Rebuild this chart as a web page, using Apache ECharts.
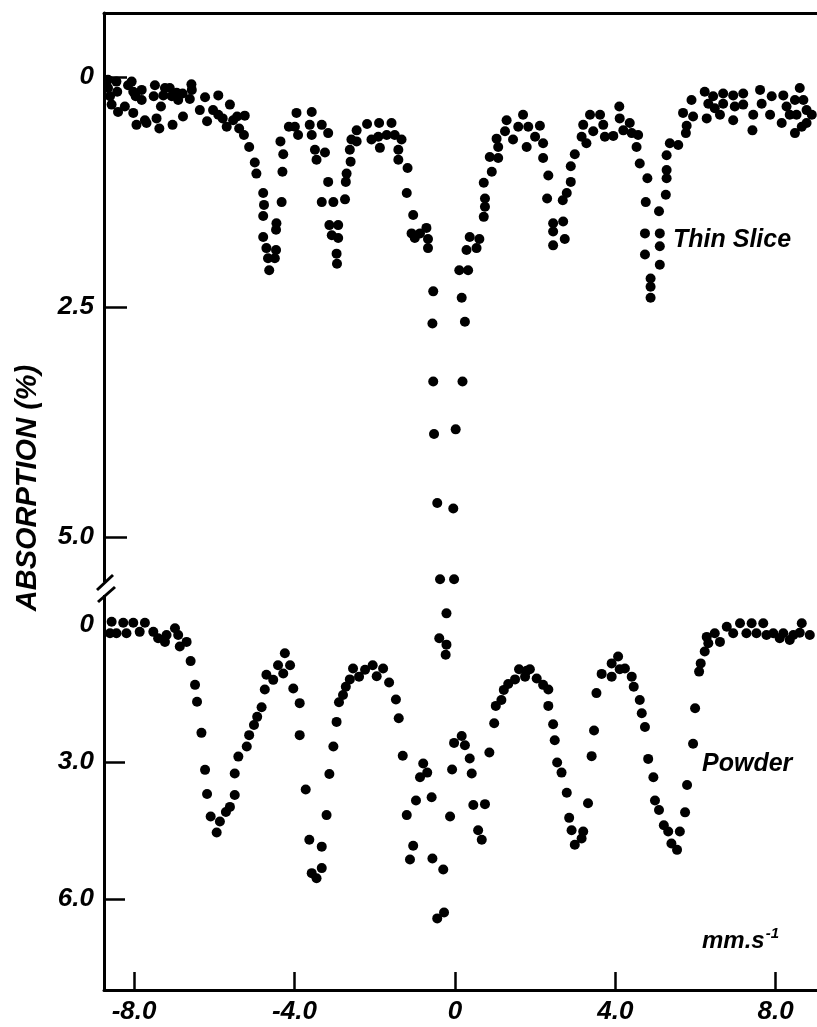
<!DOCTYPE html>
<html>
<head>
<meta charset="utf-8">
<script src="https://cdn.jsdelivr.net/npm/echarts@6/dist/echarts.min.js"></script>
<style>
  html, body { margin: 0; padding: 0; background: #fff; }
  #chart { width: 817px; height: 1027px; }
</style>
</head>
<body>
<div id="chart"></div>
<script>
// velocity (mm/s), absorption (%)
const thinSlice = [
  [-8.65,0.03],[-8.65,0.12],[-8.60,0.21],[-8.56,0.30],[-8.44,0.05],[-8.42,0.16],[-8.40,0.38],[-8.23,0.32],
  [-8.15,0.09],[-8.06,0.05],[-8.02,0.16],[-8.02,0.39],[-7.96,0.21],[-7.94,0.52],[-7.81,0.14],[-7.81,0.25],
  [-7.73,0.47],[-7.69,0.50],[-7.48,0.09],[-7.51,0.21],[-7.44,0.45],[-7.37,0.56],[-7.33,0.32],[-7.27,0.20],
  [-7.23,0.12],[-7.11,0.12],[-7.06,0.21],[-7.04,0.52],[-6.94,0.17],[-6.90,0.25],[-6.78,0.43],[-6.79,0.18],
  [-6.61,0.24],[-6.57,0.08],[-6.56,0.14],[-6.36,0.36],[-6.23,0.22],[-6.18,0.48],[-6.03,0.36],[-5.90,0.20],
  [-5.90,0.41],[-5.79,0.45],[-5.61,0.30],[-5.69,0.54],[-5.53,0.47],[-5.43,0.43],[-5.38,0.56],[-5.24,0.42],
  [-5.26,0.63],[-5.13,0.76],[-4.99,0.93],[-4.95,1.05],[-4.78,1.26],[-4.76,1.39],[-4.78,1.51],[-4.78,1.74],
  [-4.70,1.86],[-4.66,1.97],[-4.63,2.10],[-4.49,1.97],[-4.46,1.88],[-4.46,1.66],[-4.45,1.59],[-4.32,1.36],
  [-4.30,1.03],[-4.28,0.84],[-4.35,0.70],[-4.14,0.54],[-3.99,0.54],[-3.95,0.39],[-3.91,0.63],[-3.57,0.38],
  [-3.62,0.52],[-3.57,0.63],[-3.32,0.52],[-3.16,0.61],[-3.49,0.79],[-3.45,0.90],[-3.24,0.82],[-3.16,1.14],
  [-3.32,1.36],[-3.03,1.36],[-3.13,1.61],[-2.91,1.61],[-3.07,1.72],[-2.91,1.75],[-2.95,1.92],[-2.94,2.03],
  [-2.74,1.33],[-2.72,1.14],[-2.70,1.05],[-2.60,0.92],[-2.62,0.79],[-2.58,0.68],[-2.45,0.70],[-2.45,0.58],
  [-2.19,0.51],[-2.08,0.68],[-1.89,0.50],[-1.87,0.77],[-1.91,0.65],[-1.70,0.63],[-1.58,0.50],[-1.50,0.63],
  [-1.33,0.68],[-1.41,0.79],[-1.41,0.90],[-1.18,0.99],[-1.20,1.26],[-1.04,1.50],[-1.08,1.70],[-0.87,1.70],
  [-0.71,1.64],[-0.67,1.76],[-0.67,1.86],[-1.00,1.75],[-0.54,2.33],[-0.56,2.68],[0.11,2.10],[0.33,2.10],
  [0.17,2.40],[0.25,2.66],[0.37,1.74],[0.61,1.76],[0.54,1.86],[0.29,1.88],
  [-0.54,3.31],[0.19,3.31],[-0.52,3.88],[0.02,3.83],[-0.44,4.63],[-0.04,4.69],[-0.37,5.46],[-0.02,5.46],
  [-0.21,5.83],[-0.39,6.10],[-0.21,6.17],[-0.23,6.28],
  [0.72,1.52],[0.75,1.41],[0.75,1.32],[0.72,1.15],[0.92,1.03],[0.87,0.87],[1.08,0.88],[1.08,0.76],
  [1.04,0.67],[1.29,0.47],[1.25,0.59],[1.45,0.68],[1.58,0.54],[1.70,0.41],[1.83,0.54],[1.79,0.76],
  [2.12,0.53],[2.00,0.65],[2.20,0.72],[2.20,0.88],[2.33,1.07],[2.30,1.32],[2.45,1.59],[2.45,1.68],
  [2.45,1.83],[2.70,1.57],[2.74,1.76],[2.69,1.34],[2.79,1.26],[2.89,1.14],[2.89,0.97],[2.99,0.84],
  [3.20,0.52],[3.16,0.65],[3.28,0.72],[3.37,0.41],[3.45,0.59],[3.62,0.41],[3.70,0.52],[3.74,0.65],
  [3.95,0.64],[4.10,0.32],[4.11,0.45],[4.20,0.58],[4.36,0.50],[4.41,0.61],[4.57,0.63],[4.53,0.76],
  [4.61,0.94],[4.80,1.10],[4.76,1.36],[5.09,1.46],[4.74,1.70],[4.74,1.93],[5.11,1.70],[5.11,1.84],
  [5.11,2.04],[4.88,2.19],[4.88,2.28],[4.88,2.40],[5.26,1.28],[5.28,1.10],[5.28,1.01],[5.28,0.85],
  [5.36,0.72],[5.57,0.74],[5.76,0.61],[5.78,0.53],[5.69,0.39],[5.90,0.25],[5.94,0.43],[6.23,0.16],
  [6.32,0.29],[6.44,0.21],[6.48,0.34],[6.28,0.45],[6.69,0.18],[6.69,0.29],[6.61,0.41],[6.94,0.20],
  [6.98,0.32],[6.94,0.47],[7.19,0.18],[7.19,0.30],[7.44,0.41],[7.42,0.58],[7.61,0.14],[7.65,0.29],
  [7.90,0.21],[7.86,0.41],[8.15,0.50],[8.19,0.20],[8.27,0.32],[8.35,0.41],[8.48,0.25],[8.52,0.41],
  [8.48,0.61],[8.60,0.12],[8.69,0.25],[8.77,0.36],[8.77,0.50],[8.65,0.54],[8.90,0.41]
]

const powder = [
  [-8.56,-0.07],[-8.60,0.18],[-8.44,0.18],[-8.27,-0.05],[-8.19,0.18],[-8.02,-0.05],[-7.86,0.15],[-7.73,-0.05],
  [-7.52,0.15],[-7.40,0.29],[-7.23,0.37],[-7.19,0.22],[-6.98,0.07],[-6.90,0.22],[-6.69,0.37],[-6.86,0.47],
  [-6.59,0.79],[-6.48,1.31],[-6.43,1.68],[-6.32,2.36],[-6.23,3.17],[-6.18,3.70],[-6.09,4.19],[-5.86,4.30],
  [-5.94,4.54],[-5.71,4.09],[-5.61,3.98],[-5.49,3.72],[-5.49,3.25],[-5.40,2.88],[-5.19,2.66],[-5.13,2.41],
  [-5.01,2.19],[-4.93,2.01],[-4.82,1.80],[-4.74,1.41],[-4.70,1.09],[-4.53,1.20],[-4.41,0.88],[-4.28,1.06],
  [-4.24,0.62],[-4.11,0.88],[-4.03,1.39],[-3.87,1.71],[-3.87,2.41],[-3.72,3.60],[-3.63,4.70],[-3.32,4.85],
  [-3.57,5.43],[-3.45,5.54],[-3.32,5.32],[-3.20,4.16],[-3.13,3.26],[-3.03,2.66],[-2.95,2.12],[-2.89,1.69],
  [-2.79,1.53],[-2.72,1.35],[-2.62,1.19],[-2.54,0.95],[-2.39,1.13],[-2.24,0.98],[-2.05,0.88],[-1.95,1.12],
  [-1.79,0.95],[-1.64,1.26],[-1.47,1.63],[-1.40,2.04],[-1.30,2.86],[-1.20,4.16],[-0.97,3.84],[-1.04,4.83],
  [-1.12,5.13],[-0.87,3.33],[-0.79,3.03],[-0.69,3.23],[-0.58,3.77],[-0.56,5.11],[-0.29,5.35],[-0.44,6.42],
  [-0.27,6.29],[-0.12,4.19],[-0.07,3.16],[-0.02,2.58],[0.17,2.43],[0.25,2.63],[0.37,2.92],[0.42,3.25],
  [0.46,3.94],[0.75,3.92],[0.58,4.49],[0.67,4.70],[0.86,2.79],[0.98,2.15],[1.02,1.77],[1.16,1.64],
  [1.22,1.42],[1.33,1.29],[1.50,1.19],[1.60,0.97],[1.79,1.00],[1.87,0.97],[1.75,1.13],[2.04,1.17],
  [2.20,1.31],[2.33,1.41],[2.33,1.77],[2.45,2.17],[2.49,2.52],[2.55,3.01],[2.66,3.23],[2.79,3.67],
  [2.85,4.22],[2.91,4.49],[2.99,4.81],[3.16,4.67],[3.20,4.52],[3.32,3.90],[3.41,2.87],[3.47,2.31],
  [3.53,1.49],[3.66,1.07],[3.91,1.13],[3.91,0.84],[4.07,0.69],[4.11,0.97],[4.24,0.95],[4.41,1.13],
  [4.46,1.35],[4.61,1.64],[4.66,1.93],[4.74,2.23],[4.82,2.93],[4.95,3.33],[4.99,3.84],[5.09,4.05],
  [5.21,4.38],[5.32,4.52],[5.40,4.78],[5.54,4.92],[5.61,4.52],[5.74,4.10],[5.79,3.50],[5.94,2.60],
  [5.99,1.82],[6.09,1.02],[6.13,0.84],[6.23,0.58],[6.32,0.40],[6.28,0.26],[6.48,0.18],[6.61,0.37],
  [6.78,0.04],[6.94,0.18],[7.11,-0.04],[7.27,0.18],[7.40,-0.04],[7.52,0.18],[7.69,-0.04],[7.77,0.22],
  [7.94,0.18],[8.10,0.29],[8.19,0.18],[8.35,0.33],[8.44,0.22],[8.65,-0.04],[8.60,0.17],[8.85,0.22]
]

const velocityTicks = [-8, -4, 0, 4, 8]
const thinTicks = [0, 2.5, 5]
const powderTicks = [0, 3, 6]

const font = '"Liberation Sans", Arial, sans-serif'
const fmt = v => v === 0 ? '0' : v.toFixed(1)
const labelStyle = {
  color: '#000',
  fontFamily: font,
  fontSize: 26,
  fontStyle: 'italic',
  fontWeight: 'bold'
}

const chart = echarts.init(document.getElementById('chart'), null, { renderer: 'canvas' })

chart.setOption({
  animation: false,
  backgroundColor: '#fff',
  grid: {
    left: 104,
    top: 13,
    right: 0,
    bottom: 37,
    containLabel: false,
    outerBoundsMode: 'none'
  },
  xAxis: [
    {
      type: 'value',
      min: -8.75,
      max: 9.03,
      axisLine: { show: true, onZero: false, lineStyle: { color: '#000', width: 3 } },
      axisTick: { show: true, inside: true, length: 18, customValues: velocityTicks, lineStyle: { color: '#000', width: 2.5 } },
      axisLabel: { ...labelStyle, margin: 9, customValues: velocityTicks, formatter: fmt },
      splitLine: { show: false }
    },
    {
      type: 'value',
      position: 'top',
      min: -8.75,
      max: 9.03,
      axisLine: { show: true, onZero: false, lineStyle: { color: '#000', width: 3 } },
      axisTick: { show: false },
      axisLabel: { show: false },
      splitLine: { show: false }
    }
  ],
  yAxis: [
    {
      type: 'value',
      inverse: true,
      min: -0.6957,
      max: 9.924,
      position: 'left',
      axisLine: { show: true, onZero: false, lineStyle: { color: '#000', width: 3 } },
      axisTick: { show: true, inside: true, length: 23, customValues: thinTicks, lineStyle: { color: '#000', width: 2.5 } },
      axisLabel: { ...labelStyle, margin: 10, customValues: thinTicks, formatter: fmt },
      splitLine: { show: false }
    },
    {
      type: 'value',
      inverse: true,
      min: -13.392,
      max: 7.987,
      position: 'left',
      axisLine: { show: false, onZero: false },
      axisTick: { show: true, inside: true, length: 21, customValues: [3, 6], lineStyle: { color: '#000', width: 2.5 } },
      axisLabel: { ...labelStyle, margin: 10, customValues: powderTicks, formatter: fmt },
      splitLine: { show: false }
    }
  ],
  series: [
    {
      name: 'Thin Slice',
      type: 'scatter',
      xAxisIndex: 0,
      yAxisIndex: 0,
      symbolSize: 10,
      itemStyle: { color: '#000', opacity: 1 },
      data: thinSlice
    },
    {
      name: 'Powder',
      type: 'scatter',
      xAxisIndex: 0,
      yAxisIndex: 1,
      symbolSize: 10,
      itemStyle: { color: '#000', opacity: 1 },
      data: powder
    }
  ],
  graphic: [
    // break mark on the y axis
    { type: 'rect', shape: { x: 99, y: 582, width: 10, height: 13 }, style: { fill: '#fff' }, z: 100 },
    { type: 'line', shape: { x1: 97, y1: 590, x2: 113, y2: 575 }, style: { stroke: '#000', lineWidth: 3 }, z: 101 },
    { type: 'line', shape: { x1: 98, y1: 602, x2: 115, y2: 587 }, style: { stroke: '#000', lineWidth: 3 }, z: 101 },
    {
      type: 'text',
      x: 28,
      y: 488,
      rotation: Math.PI / 2,
      style: {
        text: 'ABSORPTION (%)',
        fill: '#000',
        font: 'italic bold 29px ' + font,
        align: 'center',
        verticalAlign: 'middle'
      }
    },
    {
      type: 'text',
      x: 673,
      y: 240,
      style: { text: 'Thin Slice', fill: '#000', font: 'italic bold 25px ' + font, verticalAlign: 'middle' }
    },
    {
      type: 'text',
      x: 702,
      y: 764,
      style: { text: 'Powder', fill: '#000', font: 'italic bold 25px ' + font, verticalAlign: 'middle' }
    },
    {
      type: 'text',
      x: 702,
      y: 953,
      style: {
        text: '{a|mm.s}{b|-1}',
        verticalAlign: 'bottom',
        rich: {
          a: { fill: '#000', fontFamily: font, fontSize: 24, fontStyle: 'italic', fontWeight: 'bold', verticalAlign: 'bottom' },
          b: { fill: '#000', fontFamily: font, fontSize: 15, fontStyle: 'italic', fontWeight: 'bold', verticalAlign: 'top', padding: [0, 0, 12, 1] }
        }
      }
    }
  ]
})
</script>
</body>
</html>
